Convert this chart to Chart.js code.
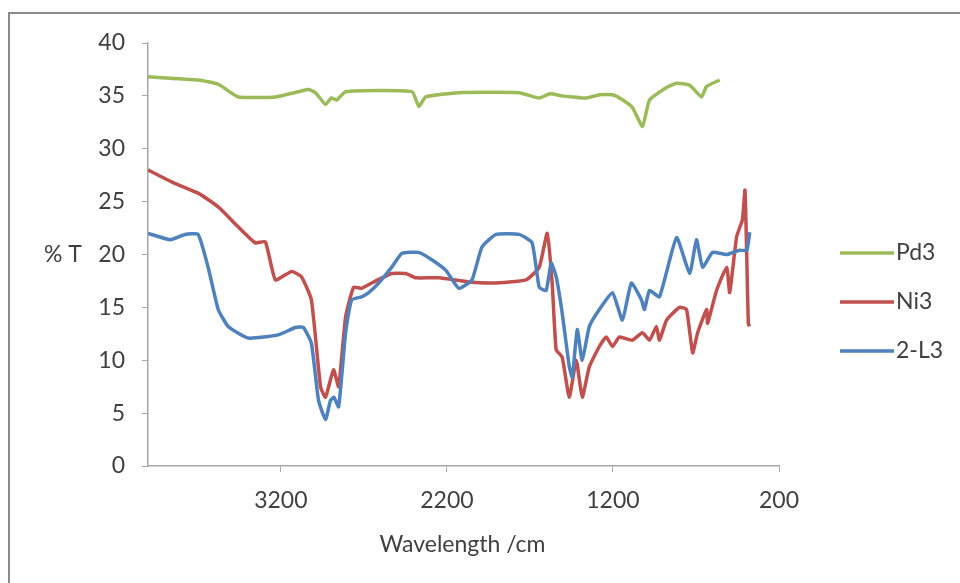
<!DOCTYPE html>
<html>
<head>
<meta charset="utf-8">
<title>IR spectra</title>
<script src="https://cdn.jsdelivr.net/npm/chart.js@4.4.0/dist/chart.umd.min.js"></script>
<style>
  body { margin: 0; background: #fff; }
  canvas { display: block; }
</style>
</head>
<body>
<canvas id="irChart" width="960" height="583"></canvas>
<script>
// wavenumbers (x) and % transmittance (y)
const seriesNames = ["Pd3", "Ni3", "2-L3"];
const seriesColors = ["#9bbb59", "#c0504d", "#4f81bd"];
const xTicks = [3200, 2200, 1200, 200];

const pd3Wave = [4000, 3698, 3577, 3456, 3233, 3034, 2991, 2931, 2895, 2864, 2810, 2411, 2369, 2327, 2128, 1765, 1644, 1580, 1506, 1440, 1361, 1280, 1203, 1150, 1083, 1022, 980, 877, 817, 738, 666, 636, 557];
const pd3T = [36.8, 36.5, 36.1, 34.9, 34.9, 35.6, 35.3, 34.2, 34.8, 34.6, 35.4, 35.4, 34.0, 34.9, 35.3, 35.3, 34.8, 35.2, 35.0, 34.9, 34.8, 35.1, 35.1, 34.7, 33.9, 32.1, 34.6, 35.8, 36.2, 36.0, 34.9, 35.9, 36.5];

const ni3Wave = [4000, 3849, 3698, 3577, 3456, 3354, 3293, 3233, 3136, 3076, 3016, 2961, 2931, 2883, 2852, 2810, 2762, 2713, 2653, 2532, 2448, 2387, 2248, 2067, 1928, 1723, 1644, 1596, 1566, 1542, 1506, 1463, 1421, 1385, 1342, 1282, 1240, 1203, 1161, 1083, 1022, 980, 938, 920, 877, 799, 757, 720, 690, 636, 630, 576, 515, 497, 455, 420, 405, 395, 385, 378];
const ni3T = [28.0, 26.8, 25.8, 24.5, 22.6, 21.1, 21.2, 17.6, 18.4, 17.9, 15.7, 7.5, 6.5, 9.1, 7.5, 14.1, 16.9, 16.8, 17.3, 18.2, 18.2, 17.8, 17.8, 17.4, 17.3, 17.6, 18.8, 22.0, 17.3, 11.0, 10.3, 6.5, 10.0, 6.5, 9.4, 11.3, 12.2, 11.3, 12.2, 11.9, 12.6, 11.9, 13.2, 11.9, 13.8, 15.0, 14.8, 10.7, 12.6, 14.8, 13.5, 16.6, 18.8, 16.4, 21.7, 23.3, 26.1, 20.4, 13.5, 13.2];

const l3Wave = [4000, 3867, 3777, 3698, 3638, 3577, 3517, 3396, 3215, 3112, 3064, 3016, 2973, 2931, 2901, 2880, 2852, 2810, 2774, 2713, 2671, 2611, 2532, 2472, 2369, 2291, 2206, 2128, 2049, 1989, 1904, 1765, 1687, 1644, 1602, 1572, 1542, 1506, 1463, 1445, 1415, 1385, 1342, 1282, 1203, 1143, 1089, 1028, 1010, 980, 920, 817, 738, 697, 660, 600, 515, 437, 394, 376];
const l3T = [22.0, 21.4, 21.9, 21.9, 18.8, 14.8, 13.2, 12.1, 12.4, 13.1, 13.1, 11.6, 6.2, 4.4, 6.2, 6.5, 5.6, 12.6, 15.7, 16.0, 16.4, 17.3, 18.8, 20.1, 20.2, 19.5, 18.5, 16.8, 17.6, 20.7, 21.9, 21.9, 21.1, 16.9, 16.6, 19.2, 17.9, 14.5, 9.4, 8.4, 12.9, 10.0, 13.2, 14.8, 16.4, 13.8, 17.3, 15.7, 14.8, 16.6, 16.0, 21.6, 18.2, 21.4, 18.8, 20.2, 20.0, 20.4, 20.4, 22.1];

const FONT = "Lato, 'Open Sans', sans-serif";
const FONT_SIZE = 23;
const TEXT = "#404040";
const AXIS = "#a6a6a6";

const toPoints = (waves, values) => waves.map((w, i) => ({ x: w, y: values[i] }));

// frame, axis titles and legend are drawn by hand so they sit where Excel put them
const decorations = {
  id: "decorations",
  afterDraw(chart) {
    const ctx = chart.ctx;
    const area = chart.chartArea;
    ctx.save();

    ctx.strokeStyle = "#8c8c8c";
    ctx.lineWidth = 2;
    ctx.beginPath();
    ctx.moveTo(9, 583);
    ctx.lineTo(9, 13);
    ctx.lineTo(960, 13);
    ctx.stroke();

    ctx.fillStyle = TEXT;
    ctx.font = `${FONT_SIZE}px ${FONT}`;
    ctx.textBaseline = "middle";
    ctx.textAlign = "left";
    ctx.fillText("% T", 44, chart.scales.y.getPixelForValue(20));

    ctx.textAlign = "center";
    ctx.fillText("Wavelength /cm", (area.left + area.right) / 2 - 1, 545);

    ctx.textAlign = "left";
    const legendY = [253, 302, 351];
    chart.data.datasets.forEach((ds, i) => {
      ctx.strokeStyle = ds.borderColor;
      ctx.lineWidth = 3.5;
      ctx.beginPath();
      ctx.moveTo(840, legendY[i]);
      ctx.lineTo(894, legendY[i]);
      ctx.stroke();
      ctx.fillStyle = TEXT;
      ctx.fillText(ds.label, 896, legendY[i]);
    });

    ctx.restore();
  }
};

const datasets = [
  { label: seriesNames[0], data: toPoints(pd3Wave, pd3T), borderColor: seriesColors[0], order: 2 },
  { label: seriesNames[1], data: toPoints(ni3Wave, ni3T), borderColor: seriesColors[1], order: 1 },
  { label: seriesNames[2], data: toPoints(l3Wave, l3T), borderColor: seriesColors[2], order: 0 },
];

new Chart(document.getElementById("irChart"), {
  type: "line",
  data: { datasets },
  options: {
    responsive: false,
    animation: false,
    layout: { padding: { left: 0, right: 181, top: 43, bottom: 0 } },
    plugins: {
      legend: { display: false },
      tooltip: { enabled: false },
    },
    elements: {
      point: { radius: 0 },
      line: { borderWidth: 3.5, tension: 0.15, fill: false },
    },
    scales: {
      x: {
        type: "linear",
        reverse: true,
        min: 200,
        max: 4000,
        afterBuildTicks: (scale) => { scale.ticks = xTicks.map((v) => ({ value: v })); },
        afterFit: (scale) => { scale.height = 117; },
        grid: { drawOnChartArea: false, drawTicks: true, tickLength: 6, color: AXIS },
        border: { color: AXIS, width: 1.5 },
        ticks: {
          padding: 15, color: TEXT, font: { family: FONT, size: FONT_SIZE },
          maxRotation: 0, autoSkip: false,
          callback: (value) => String(value),
        },
      },
      y: {
        min: 0,
        max: 40,
        afterFit: (scale) => { scale.width = 148; },
        grid: { drawOnChartArea: false, drawTicks: true, tickLength: 6, color: AXIS },
        border: { color: AXIS, width: 1.5 },
        ticks: { stepSize: 5, padding: 17, color: TEXT, font: { family: FONT, size: FONT_SIZE } },
      },
    },
  },
  plugins: [decorations],
});
</script>
</body>
</html>
